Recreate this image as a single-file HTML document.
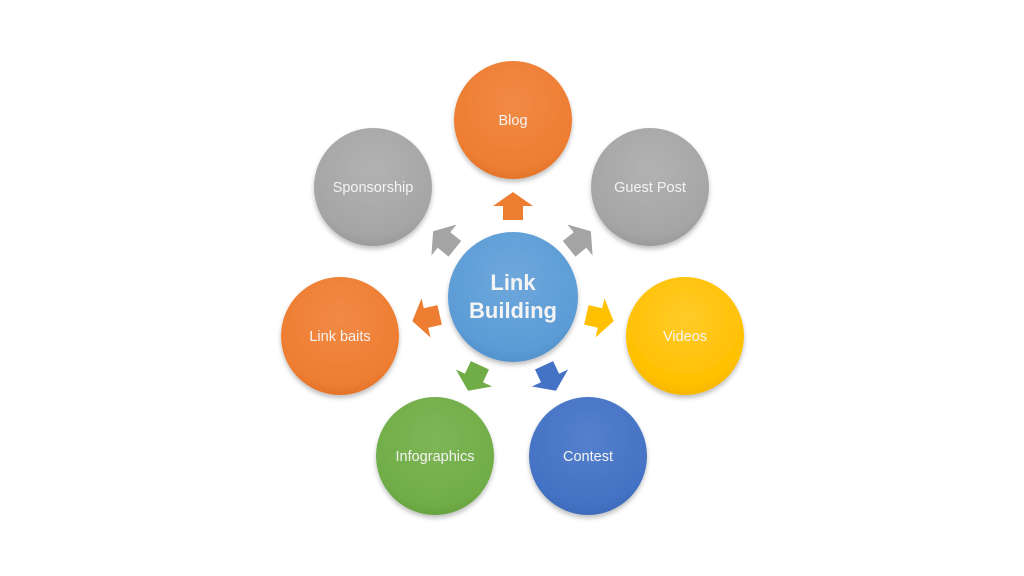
<!DOCTYPE html>
<html><head><meta charset="utf-8"><style>
html,body{margin:0;padding:0;background:#fff;}
svg{display:block}
text{font-family:"Liberation Sans",sans-serif;fill:#f4f4f4;text-anchor:middle;}
</style></head><body>
<svg width="1024" height="576" viewBox="0 0 1024 576" xmlns="http://www.w3.org/2000/svg">
<defs>
<filter id="sh" x="-20%" y="-20%" width="140%" height="150%"><feDropShadow dx="0" dy="3" stdDeviation="2.5" flood-color="#000" flood-opacity="0.25"/></filter>
<radialGradient id="go" cx="50%" cy="35%" r="70%"><stop offset="0" stop-color="#f28a45"/><stop offset="0.8" stop-color="#ed7d31"/><stop offset="1" stop-color="#de6f26"/></radialGradient>
<radialGradient id="gg" cx="50%" cy="35%" r="70%"><stop offset="0" stop-color="#b2b2b2"/><stop offset="0.8" stop-color="#a5a5a5"/><stop offset="1" stop-color="#959595"/></radialGradient>
<radialGradient id="gy" cx="50%" cy="35%" r="70%"><stop offset="0" stop-color="#ffcb2a"/><stop offset="0.8" stop-color="#ffc000"/><stop offset="1" stop-color="#efb000"/></radialGradient>
<radialGradient id="gb" cx="50%" cy="35%" r="70%"><stop offset="0" stop-color="#5580cc"/><stop offset="0.8" stop-color="#4472c4"/><stop offset="1" stop-color="#3a66b5"/></radialGradient>
<radialGradient id="gn" cx="50%" cy="35%" r="70%"><stop offset="0" stop-color="#7eb657"/><stop offset="0.8" stop-color="#70ad47"/><stop offset="1" stop-color="#639e3c"/></radialGradient>
<radialGradient id="gc" cx="50%" cy="35%" r="70%"><stop offset="0" stop-color="#6ea8dc"/><stop offset="0.8" stop-color="#5b9bd5"/><stop offset="1" stop-color="#4f8dc6"/></radialGradient>
<polygon id="ar" points="0,-14 20,0 10,0 10,14 -10,14 -10,0 -20,0"/>
</defs>
<g filter="url(#sh)">
<circle cx="513" cy="120" r="59" fill="url(#go)"/>
<circle cx="373" cy="187" r="59" fill="url(#gg)"/>
<circle cx="650" cy="187" r="59" fill="url(#gg)"/>
<circle cx="340" cy="336" r="59" fill="url(#go)"/>
<circle cx="685" cy="336" r="59" fill="url(#gy)"/>
<circle cx="435" cy="456" r="59" fill="url(#gn)"/>
<circle cx="588" cy="456" r="59" fill="url(#gb)"/>
<circle cx="513" cy="297" r="65" fill="url(#gc)"/>
</g>
<use href="#ar" fill="#ed7d31" transform="translate(513,206)"/>
<use href="#ar" fill="#a5a5a5" transform="translate(580,240) rotate(51)"/>
<use href="#ar" fill="#a5a5a5" transform="translate(444,240) rotate(-51)"/>
<use href="#ar" fill="#ffc000" transform="translate(600,318) rotate(103)"/>
<use href="#ar" fill="#ed7d31" transform="translate(426,318) rotate(-103)"/>
<use href="#ar" fill="#4472c4" transform="translate(550,378) rotate(155)"/>
<use href="#ar" fill="#70ad47" transform="translate(474,378) rotate(-155)"/>
<g font-size="14.5">
<text x="513" y="125">Blog</text>
<text x="373" y="192">Sponsorship</text>
<text x="650" y="192">Guest Post</text>
<text x="340" y="341">Link baits</text>
<text x="685" y="341">Videos</text>
<text x="435" y="461">Infographics</text>
<text x="588" y="461">Contest</text>
</g>
<g font-size="22" font-weight="bold">
<text x="513" y="290">Link</text>
<text x="513" y="318">Building</text>
</g>
</svg>
</body></html>
